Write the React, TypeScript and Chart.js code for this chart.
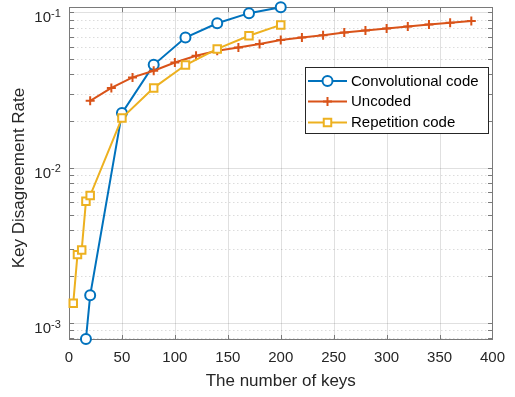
import React, { useEffect, useRef } from 'react';
import { Chart, registerables } from 'chart.js';

Chart.register(...registerables);

// ---- data ----
const convKeys = [16, 20, 50, 80, 110, 140, 170, 200];
const convRate = [0.00079, 0.00151, 0.0225, 0.046, 0.069, 0.0853, 0.099, 0.108];

const uncodedKeys = [20, 40, 60, 80, 100, 120, 140, 160, 180, 200, 220, 240, 260, 280, 300, 320, 340, 360, 380];
const uncodedRate = [0.027, 0.0327, 0.0382, 0.0422, 0.0476, 0.0526, 0.0567, 0.0595, 0.0626, 0.0664, 0.069, 0.0714, 0.0743, 0.0765, 0.0788, 0.0812, 0.0836, 0.0858, 0.0883];

const repKeys = [4, 8, 12, 16, 20, 50, 80, 110, 140, 170, 200];
const repRate = [0.00134, 0.00276, 0.00296, 0.00608, 0.00663, 0.0209, 0.0327, 0.0459, 0.0583, 0.0708, 0.0832];

const seriesNames = ['Convolutional code', 'Uncoded', 'Repetition code'];

const xTicks = [0, 50, 100, 150, 200, 250, 300, 350, 400];
const yMajorTicks = [1e-3, 1e-2, 1e-1];
const yTickExponents = ['-3', '-2', '-1'];
const yMinorMultipliers = [2, 3, 4, 5, 6, 7, 8, 9];
const yDecades = [1e-4, 1e-3, 1e-2, 1e-1];
const xRange = [0, 400];
const yRange = [0.00079, 0.108];

const FONT = "'Liberation Sans', Arial, Helvetica, sans-serif";
const TEXT = '#262626';

const toPoints = (xs: number[], ys: number[]) => xs.map((x, i) => ({ x, y: ys[i] }));

const matlabPlugin = {
  id: 'matlabAxes',
  beforeDatasetsDraw(chart: any) {
    const { ctx, chartArea, scales } = chart;
    const { left, right, top, bottom } = chartArea;
    const xs = scales.x;
    const ys = scales.y;
    ctx.save();
    ctx.lineWidth = 1;
    // minor y grid (dotted)
    ctx.strokeStyle = 'rgba(38,38,38,0.16)';
    ctx.setLineDash([1.5, 2.5]);
    const minors: number[] = [];
    yDecades.forEach((d) =>
      yMinorMultipliers.forEach((m) => {
        const v = d * m;
        if (v > yRange[0] && v < yRange[1]) minors.push(v);
      })
    );
    minors.forEach((v) => {
      const py = Math.round(ys.getPixelForValue(v)) + 0.5;
      ctx.beginPath();
      ctx.moveTo(left, py);
      ctx.lineTo(right, py);
      ctx.stroke();
    });
    ctx.setLineDash([]);
    // major grid
    ctx.strokeStyle = 'rgba(38,38,38,0.14)';
    xTicks.forEach((v) => {
      const px = Math.round(xs.getPixelForValue(v)) + 0.5;
      ctx.beginPath();
      ctx.moveTo(px, top);
      ctx.lineTo(px, bottom);
      ctx.stroke();
    });
    yMajorTicks.forEach((v) => {
      const py = Math.round(ys.getPixelForValue(v)) + 0.5;
      ctx.beginPath();
      ctx.moveTo(left, py);
      ctx.lineTo(right, py);
      ctx.stroke();
    });
    // box
    ctx.strokeStyle = '#7a7a7a';
    const l = Math.round(left) + 0.5;
    const r = Math.round(right) + 0.5;
    const t = Math.round(top) + 0.5;
    const b = Math.round(bottom) + 0.5;
    ctx.strokeRect(l, t, r - l, b - t);
    // ticks (inward)
    const tl = 4.5;
    ctx.beginPath();
    xTicks.forEach((v) => {
      const px = Math.round(xs.getPixelForValue(v)) + 0.5;
      ctx.moveTo(px, b);
      ctx.lineTo(px, b - tl);
      ctx.moveTo(px, t);
      ctx.lineTo(px, t + tl);
    });
    [...yMajorTicks, ...minors].forEach((v) => {
      const py = Math.round(ys.getPixelForValue(v)) + 0.5;
      ctx.moveTo(l, py);
      ctx.lineTo(l + tl, py);
      ctx.moveTo(r, py);
      ctx.lineTo(r - tl, py);
    });
    ctx.stroke();
    ctx.restore();
  },
  afterDraw(chart: any) {
    const { ctx, scales } = chart;
    const ys = scales.y;
    ctx.save();
    // y tick labels 10^k
    ctx.fillStyle = TEXT;
    yMajorTicks.forEach((v, i) => {
      const py = ys.getPixelForValue(v);
      ctx.font = `15px ${FONT}`;
      ctx.textAlign = 'right';
      ctx.textBaseline = 'alphabetic';
      ctx.fillText('10', 51, py + 9.8);
      ctx.font = `11px ${FONT}`;
      ctx.textAlign = 'left';
      ctx.fillText(yTickExponents[i], 51, py + 4.6);
    });
    // y title
    ctx.save();
    ctx.translate(19, 178);
    ctx.rotate(-Math.PI / 2);
    ctx.font = `17px ${FONT}`;
    ctx.textAlign = 'center';
    ctx.textBaseline = 'middle';
    ctx.fillText('Key Disagreement Rate', 0, 0);
    ctx.restore();

    // legend
    const bx = 305.5, by = 67.5, bw = 183, bh = 66;
    ctx.fillStyle = '#ffffff';
    ctx.fillRect(bx, by, bw, bh);
    ctx.strokeStyle = '#262626';
    ctx.lineWidth = 1;
    ctx.strokeRect(bx, by, bw, bh);
    const rowY = [81, 101.5, 122.5];
    chart.data.datasets.forEach((ds: any, i: number) => {
      const y = rowY[i];
      ctx.strokeStyle = ds.borderColor;
      ctx.lineWidth = ds.borderWidth;
      ctx.beginPath();
      ctx.moveTo(308, y);
      ctx.lineTo(347, y);
      ctx.stroke();
      const cx = 327.5;
      const rr = ds.pointRadius;
      ctx.lineWidth = ds.pointBorderWidth;
      ctx.fillStyle = '#ffffff';
      ctx.beginPath();
      if (ds.pointStyle === 'circle') {
        ctx.arc(cx, y, rr, 0, Math.PI * 2);
        ctx.fill();
        ctx.stroke();
      } else if (ds.pointStyle === 'rect') {
        const s = Math.SQRT1_2 * rr;
        ctx.rect(cx - s, y - s, 2 * s, 2 * s);
        ctx.fill();
        ctx.stroke();
      } else {
        ctx.moveTo(cx - rr, y);
        ctx.lineTo(cx + rr, y);
        ctx.moveTo(cx, y - rr);
        ctx.lineTo(cx, y + rr);
        ctx.stroke();
      }
      ctx.fillStyle = '#000000';
      ctx.font = `15px ${FONT}`;
      ctx.textAlign = 'left';
      ctx.textBaseline = 'middle';
      ctx.fillText(ds.label, 351, y + 0.5);
    });
    ctx.restore();
  },
};

export default function App() {
  const ref = useRef<HTMLCanvasElement>(null);
  useEffect(() => {
    document.body.style.margin = '0';
    const chart = new Chart(ref.current as HTMLCanvasElement, {
      type: 'line',
      data: {
        datasets: [
          {
            label: seriesNames[0],
            data: toPoints(convKeys, convRate),
            borderColor: '#0072BD',
            backgroundColor: '#0072BD',
            borderWidth: 2,
            pointStyle: 'circle',
            pointRadius: 5,
            pointBorderWidth: 2,
            pointBackgroundColor: '#ffffff',
            pointBorderColor: '#0072BD',
            tension: 0,
            clip: false,
            order: 3,
          } as any,
          {
            label: seriesNames[1],
            data: toPoints(uncodedKeys, uncodedRate),
            borderColor: '#D95319',
            backgroundColor: '#D95319',
            borderWidth: 2,
            pointStyle: 'cross',
            pointRadius: 4.5,
            pointBorderWidth: 2,
            pointBorderColor: '#D95319',
            tension: 0,
            clip: false,
            order: 2,
          } as any,
          {
            label: seriesNames[2],
            data: toPoints(repKeys, repRate),
            borderColor: '#EDB120',
            backgroundColor: '#EDB120',
            borderWidth: 2,
            pointStyle: 'rect',
            pointRadius: 5.3,
            pointBorderWidth: 2,
            pointBackgroundColor: '#ffffff',
            pointBorderColor: '#EDB120',
            tension: 0,
            clip: false,
            order: 1,
          } as any,
        ],
      },
      options: {
        responsive: false,
        devicePixelRatio: 1,
        animation: false,
        layout: { padding: { top: 7, right: 20, left: 0, bottom: 0 } },
        plugins: {
          legend: { display: false },
          tooltip: { enabled: false },
        },
        scales: {
          x: {
            type: 'linear',
            min: xRange[0],
            max: xRange[1],
            afterBuildTicks: (scale: any) => {
              scale.ticks = xTicks.map((v) => ({ value: v }));
            },
            ticks: {
              font: { family: FONT, size: 15 },
              color: TEXT,
              padding: 10,
              maxRotation: 0,
              autoSkip: false,
            },
            grid: { display: false, drawTicks: false },
            border: { display: false },
            title: {
              display: true,
              text: 'The number of keys',
              font: { family: FONT, size: 17 },
              color: TEXT,
              padding: { top: 0, bottom: 5 },
            },
            afterFit: (scale: any) => {
              scale.height = 58;
            },
          },
          y: {
            type: 'logarithmic',
            min: yRange[0],
            max: yRange[1],
            ticks: { display: false },
            grid: { display: false, drawTicks: false },
            border: { display: false },
            afterFit: (scale: any) => {
              scale.width = 69;
            },
          },
        },
      } as any,
      plugins: [matlabPlugin],
    });
    return () => chart.destroy();
  }, []);
  return (
    <canvas
      ref={ref}
      width={515}
      height={397}
      style={{ display: 'block', width: '515px', height: '397px' }}
    />
  );
}
